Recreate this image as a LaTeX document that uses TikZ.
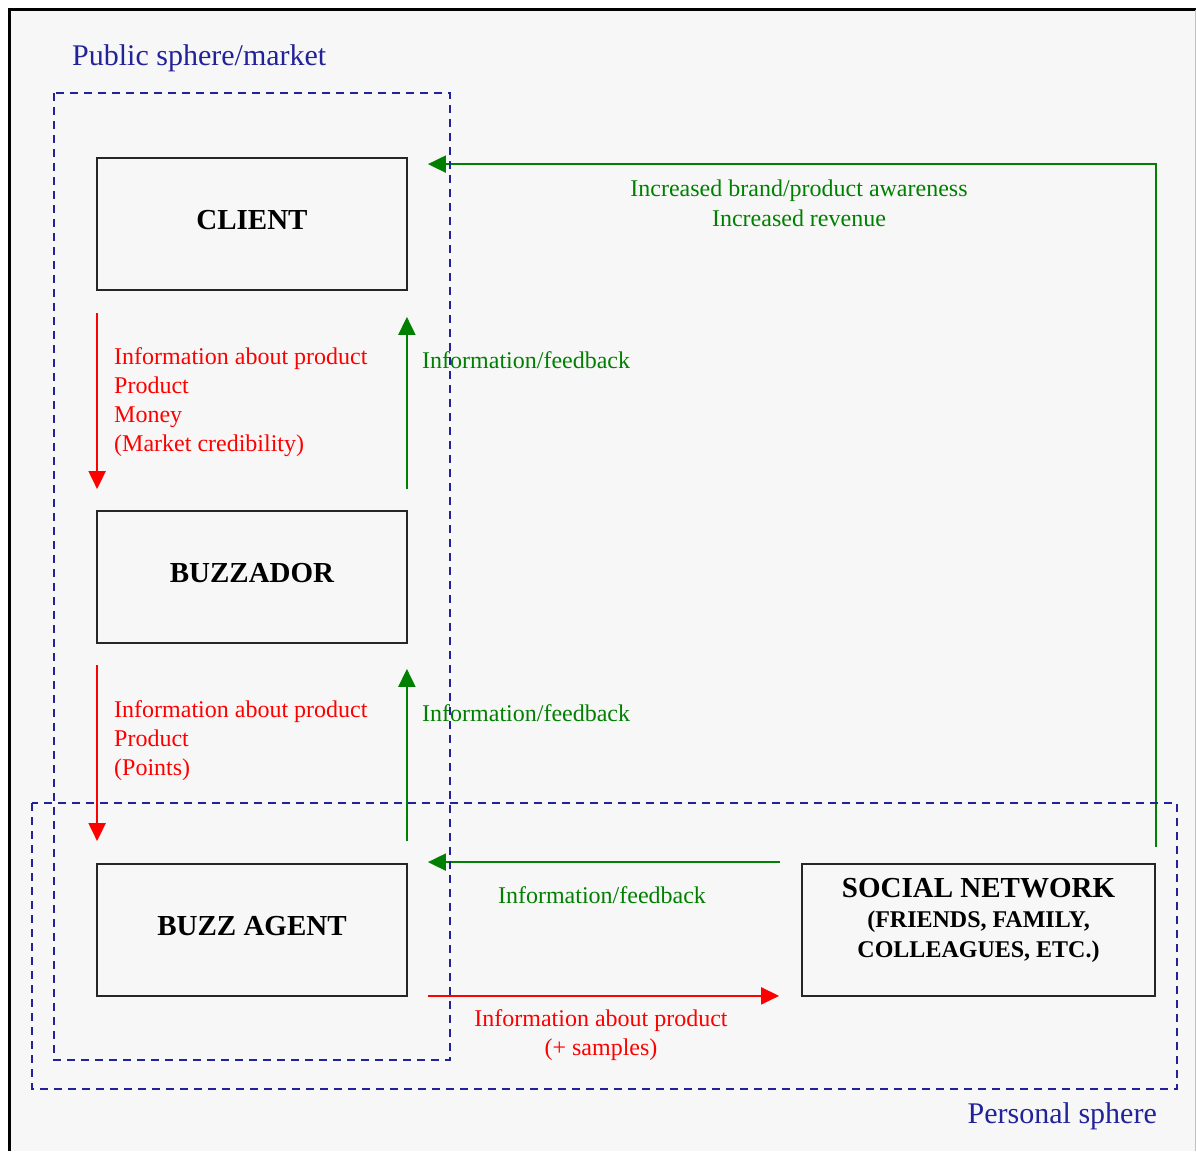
\documentclass[tikz,border=0pt]{standalone}
\usepackage{fontspec}
\setmainfont{Liberation Serif}
\usetikzlibrary{arrows.meta,calc}
\definecolor{navyc}{RGB}{34,34,153}
\definecolor{greenc}{RGB}{0,128,0}
\definecolor{redc}{RGB}{255,0,0}
\definecolor{bgc}{RGB}{247,247,247}
\begin{document}
\begin{tikzpicture}[x=1pt,y=-1pt,
  box/.style={draw=black!85,line width=1.8pt,fill=bgc,minimum width=310pt,minimum height=132pt,inner sep=0pt,align=center,font=\fontsize{29}{30}\selectfont\bfseries},
  leftbox/.style={box,text depth=9pt},
  region/.style={draw=navyc,line width=1.8pt,dash pattern=on 8pt off 6pt},
  redarr/.style={draw=redc,line width=2pt,-{Triangle[length=18pt,width=17pt]}},
  greenarr/.style={draw=greenc,line width=2pt,-{Triangle[length=18pt,width=17pt]}},
  redtxt/.style={text=redc,inner sep=0pt,font=\fontsize{24}{29}\selectfont},
  greentxt/.style={text=greenc,inner sep=0pt,font=\fontsize{24}{30}\selectfont},
  regionlbl/.style={text=navyc,inner sep=0pt,font=\fontsize{30}{30}\selectfont}
]
\useasboundingbox (0,0) rectangle (1196,1151);
\fill[white] (0,0) rectangle (1196,1151);
\fill[bgc] (9,9) rectangle (1196,1151);
\draw[line width=3pt] (9.5,1151) -- (9.5,9.5) -- (1196,9.5);
\draw[black!25,line width=1pt] (1195.5,9.5) -- (1195.5,1151);

% boxes
\node[leftbox] (client) at (252,224) {CLIENT};
\node[leftbox] (buzzador) at (252,577) {BUZZADOR};
\node[leftbox] (agent) at (252,930) {BUZZ AGENT};
\node[box,minimum width=353pt] (social) at (978.5,930) {SOCIAL NETWORK\\\fontsize{24}{30}\selectfont(FRIENDS, FAMILY,\\\fontsize{24}{30}\selectfont COLLEAGUES, ETC.)\\[-5pt]\mbox{}};

% vertical arrows
\draw[redarr] ([shift={(1,22)}]client.south west) -- ([shift={(1,-21)}]buzzador.north west);
\draw[greenarr] ([shift={(-1,-21)}]buzzador.north east) -- ([shift={(-1,26)}]client.south east);
\draw[redarr] ([shift={(1,21)}]buzzador.south west) -- ([shift={(1,-22)}]agent.north west);
\draw[greenarr] ([shift={(-1,-22)}]agent.north east) -- ([shift={(-1,25)}]buzzador.south east);

% horizontal arrows
\draw[greenarr] ([shift={(0,-16)}]social.north east) |- ([shift={(20,7)}]client.north east);
\draw[greenarr] ([shift={(-21,-1)}]social.north west) -- ([shift={(20,-1)}]agent.north east);
\draw[redarr] ([shift={(20,-1)}]agent.south east) -- ([shift={(-22,-1)}]social.south west);

% labels
\node[redtxt,anchor=west,align=left] (lbl1) at (114,402) {Information about product\\Product\\Money\\(Market credibility)};
\node[greentxt,anchor=west] (fb1) at (422,360) {Information/feedback};
\node[redtxt,anchor=west,align=left] (lbl2) at (114,741) {Information about product\\Product\\(Points)};
\node[greentxt,anchor=west] (fb2) at (422,713) {Information/feedback};
\node[greentxt,align=center] (aw) at (799,203) {Increased brand/product awareness\\Increased revenue};
\node[greentxt] (fb3) at (602,895) {Information/feedback};
\node[redtxt,align=center] (lbl3) at (601,1035) {Information about product\\(+ samples)};

% regions
\draw[region] (54,93) rectangle (450,1060);
\draw[region] (32,803) rectangle (1177,1089);
\node[regionlbl,anchor=west] (pub) at (72,58) {Public sphere/market};
\node[regionlbl,anchor=east] (pers) at (1157,1116) {Personal sphere};
\end{tikzpicture}
\end{document}
